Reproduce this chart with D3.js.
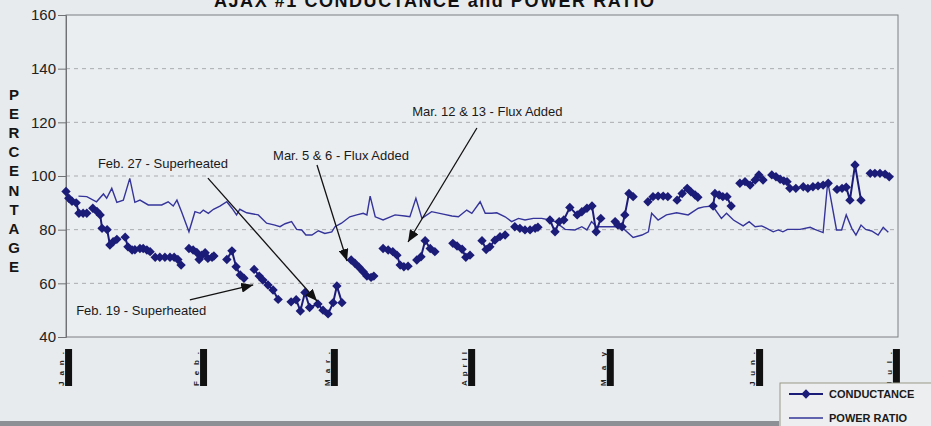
<!DOCTYPE html>
<html>
<head>
<meta charset="utf-8">
<script src="https://cdn.jsdelivr.net/npm/d3@7"></script>
<style>
  html, body { margin: 0; padding: 0; background: #e7ebee; }
  svg { display: block; font-family: "Liberation Sans", Arial, sans-serif; }
</style>
</head>
<body>
<div id="chart"></div>
<script>
// day index along the category axis (about one sample per day), value in %
const monthLabels = ['Jan.', 'Feb.', 'Mar.', 'April', 'May', 'Jun.', 'Jul.'];
const monthDays = [-0.2, 29.0, 57.3, 87.0, 117.0, 149.3, 178.9];
const yTicks = [40, 60, 80, 100, 120, 140, 160];

// conductance readings, null marks a break between runs
const conductance = [
  [0.0, 94.2], [0.6, 91.7], [1.3, 90.6], [2.2, 90.0], [2.8, 86.1], [3.7, 86.1], [4.5, 86.1], null,
  [5.8, 88.0], [6.7, 86.8], [7.4, 85.5], [7.8, 80.5], [8.9, 80.0], [9.5, 74.3], [10.2, 75.5], [11.0, 76.4], null,
  [12.8, 77.2], [13.4, 73.6], [14.3, 72.4], [14.9, 72.5], [16.0, 73.0], [16.7, 73.0], [17.5, 72.4], [18.2, 71.8], null,
  [19.3, 69.7], [20.3, 69.7], [21.4, 69.7], [22.5, 69.7], [23.4, 69.7], [24.2, 68.9], [24.9, 66.8], null,
  [26.6, 73.0], [27.5, 72.4], [28.3, 71.5], [28.8, 68.9], [29.4, 70.5], [30.1, 71.4], [30.7, 69.3], [31.6, 69.7], [32.0, 70.2], null,
  [34.8, 68.9], [35.9, 72.1], [36.8, 66.2], [37.7, 63.1], [38.5, 61.9], null,
  [40.7, 65.2], [41.8, 62.7], [42.6, 61.2], [43.7, 59.4], [44.8, 57.5], [45.9, 54.0], null,
  [48.7, 53.1], [49.8, 53.9], [50.7, 49.7], [51.7, 56.6], [52.7, 51.0], [54.5, 52.3], [55.6, 50.0], [56.7, 48.6], [57.8, 52.8], [58.6, 59.0], [59.7, 52.8], null,
  [61.7, 68.7], [62.5, 67.5], [63.4, 66.0], [64.3, 64.3], [65.1, 62.7], [66.0, 62.2], [66.6, 62.7], null,
  [68.6, 73.0], [69.7, 72.4], [70.7, 71.8], [71.6, 70.5], [72.3, 66.8], [73.1, 66.2], [74.0, 66.4], null,
  [75.9, 68.7], [76.8, 69.9], [77.7, 75.9], [78.8, 73.0], [79.8, 71.8], null,
  [83.7, 74.9], [84.6, 73.9], [85.7, 72.7], [86.5, 69.7], [87.4, 70.5], null,
  [90.0, 75.9], [90.9, 72.6], [91.7, 73.6], [92.8, 76.1], [93.9, 77.4], [95.0, 78.0], null,
  [97.1, 81.1], [98.2, 80.5], [99.3, 79.9], [100.4, 79.9], [101.5, 80.5], [102.1, 80.9], null,
  [104.7, 83.6], [105.8, 79.2], [106.7, 83.0], [107.7, 83.6], [109.0, 88.3], [110.6, 85.5], [111.6, 86.7], [112.7, 88.0], [113.8, 88.8], [114.7, 79.2], [115.7, 84.2], null,
  [118.8, 83.0], [119.4, 81.7], [120.3, 81.1], [120.9, 85.5], [121.8, 93.5], [122.7, 92.3], null,
  [125.9, 90.4], [127.0, 92.3], [128.1, 92.5], [129.2, 92.5], [130.2, 92.3], null,
  [132.2, 91.0], [133.3, 93.5], [134.4, 95.4], [135.2, 94.1], [136.1, 92.9], [136.7, 92.1], null,
  [140.0, 88.8], [140.4, 93.5], [141.3, 92.9], [142.1, 92.3], [143.0, 92.3], [143.9, 88.8], null,
  [145.8, 97.3], [146.9, 97.9], [148.0, 96.6], [149.1, 98.5], [149.9, 100.4], [150.8, 98.5], null,
  [152.7, 100.4], [153.6, 99.7], [154.5, 98.8], [155.3, 98.2], [156.0, 97.9], [156.6, 95.4], [157.9, 95.4], null,
  [159.5, 96.0], [160.5, 95.4], [161.6, 96.0], [162.7, 96.3], [163.8, 96.6], [164.9, 97.3], null,
  [166.8, 95.0], [167.9, 95.4], [168.8, 95.8], [169.6, 91.0], [170.7, 104.1], [172.0, 91.0], null,
  [174.0, 101.0], [175.0, 101.0], [176.1, 101.0], [177.2, 100.7], [178.1, 99.7]
];

const powerRatio = [
  [2.7, 92.5], [4.5, 92.3], [6.6, 90.4], [8.1, 93.3], [8.8, 91.7], [9.9, 95.4], [11.0, 90.2], [12.4, 91.0],
  [13.8, 99.1], [14.9, 90.2], [16.0, 91.0], [17.8, 89.2], [20.7, 89.2], [22.1, 90.4], [23.2, 88.8], [24.0, 91.0],
  [25.0, 86.7], [26.6, 79.2], [27.9, 86.7], [29.0, 86.1], [29.7, 87.3], [30.8, 86.1], [31.9, 87.6], [33.3, 88.8],
  [34.8, 90.4], [35.9, 88.0], [36.9, 85.5], [37.6, 87.6], [39.1, 86.3], [41.6, 85.5], [43.4, 82.4], [45.2, 81.7],
  [46.3, 81.1], [47.4, 82.2], [48.8, 83.0], [49.9, 80.1], [51.0, 79.9], [51.9, 78.0], [53.2, 78.0], [54.6, 79.6],
  [56.0, 78.6], [57.5, 79.2], [58.2, 81.1], [59.6, 82.4], [61.4, 84.8], [62.9, 85.5], [64.3, 86.1], [65.1, 85.5],
  [65.8, 92.5], [66.9, 84.8], [68.6, 83.6], [71.2, 85.5], [73.3, 85.1], [74.4, 84.8], [75.7, 91.7], [77.0, 84.2],
  [79.1, 86.7], [81.6, 85.8], [83.5, 85.1], [84.9, 84.8], [86.7, 87.3], [87.8, 86.1], [89.6, 90.4], [90.7, 86.1],
  [92.1, 86.1], [93.2, 86.3], [95.0, 84.8], [96.4, 83.0], [97.9, 84.2], [99.3, 83.6], [101.1, 84.2], [102.9, 84.2],
  [104.7, 83.6], [105.8, 83.0], [108.0, 80.1], [110.1, 79.9], [111.6, 81.1], [112.7, 79.9], [113.7, 83.0], [114.8, 81.1],
  [115.9, 81.1], [118.4, 81.1], [119.5, 81.1], [120.9, 79.9], [122.7, 77.1], [124.6, 78.0], [126.0, 79.2], [126.7, 86.1],
  [128.1, 83.6], [129.9, 85.5], [132.1, 86.3], [134.6, 85.5], [136.8, 88.0], [138.0, 88.5], [139.9, 88.8], [141.8, 84.2],
  [142.9, 86.1], [144.4, 83.6], [146.5, 81.4], [147.8, 83.0], [149.1, 81.1], [150.5, 81.4], [151.6, 80.5], [153.0, 79.2],
  [154.1, 79.9], [155.1, 79.2], [156.1, 80.1], [158.8, 80.1], [161.0, 80.9], [162.0, 80.1], [163.8, 78.9], [164.8, 97.9],
  [166.7, 79.9], [167.8, 79.9], [168.8, 85.5], [170.0, 80.5], [170.9, 78.0], [172.0, 81.7], [173.0, 80.1], [174.3, 79.5],
  [175.7, 78.0], [176.8, 80.9], [177.9, 79.0]
];

// annotation text anchor and arrow tail/tip, in [day, value]
const notes = [
  { text: 'Feb. 27 - Superheated', at: [6.9, 104.8], from: [30.7, 99.2], to: [54.3, 53.4] },
  { text: 'Feb. 19 - Superheated', at: [2.2, 50.0], from: [26.8, 53.8], to: [40.5, 59.4] },
  { text: 'Mar. 5 & 6 - Flux Added', at: [44.8, 107.8], from: [54.3, 104.1], to: [60.8, 68.3] },
  { text: 'Mar. 12 & 13 - Flux Added', at: [74.9, 124.2], from: [88.9, 117.9], to: [74.0, 75.4] }
];

const width = 931;
const height = 426;
const margin = { top: 15, right: 33, bottom: 89, left: 66 };

const condColor = '#1b1b78';
const ratioColor = '#34349a';

const svg = d3.select('#chart')
  .append('svg')
  .attr('width', width)
  .attr('height', height);

svg.append('defs').append('marker')
  .attr('id', 'arrow')
  .attr('viewBox', '0 0 12 10')
  .attr('refX', 12)
  .attr('refY', 5)
  .attr('markerWidth', 12)
  .attr('markerHeight', 10)
  .attr('markerUnits', 'userSpaceOnUse')
  .attr('orient', 'auto')
  .append('path')
  .attr('d', 'M0,0 L12,5 L0,10 Z')
  .attr('fill', '#111');

const x = d3.scaleLinear().domain([0, 180]).range([margin.left, width - margin.right]);
const y = d3.scaleLinear().domain([40, 160]).range([height - margin.bottom, margin.top]);

// plot area
svg.append('rect')
  .attr('x', x(0)).attr('y', y(160))
  .attr('width', x(180) - x(0)).attr('height', y(40) - y(160))
  .attr('fill', '#ebeef1')
  .attr('stroke', '#7d7f82')
  .attr('stroke-width', 1);

// dashed grid
svg.append('g')
  .selectAll('line')
  .data(yTicks.filter(t => t > 40 && t < 160))
  .enter().append('line')
  .attr('x1', x(0)).attr('x2', x(180))
  .attr('y1', d => y(d)).attr('y2', d => y(d))
  .attr('stroke', '#a9abae')
  .attr('stroke-width', 1)
  .attr('stroke-dasharray', '4,4');

// y axis
const yAxis = svg.append('g')
  .attr('transform', `translate(${x(0)},0)`)
  .call(d3.axisLeft(y).tickValues(yTicks).tickSize(8).tickPadding(2));
yAxis.select('.domain').attr('stroke', '#6f7174');
yAxis.selectAll('.tick line').attr('stroke', '#6f7174');
yAxis.selectAll('.tick text')
  .attr('font-size', 15)
  .attr('fill', '#222')
  .attr('font-family', '"Liberation Sans", Arial, sans-serif');

// vertical PERCENTAGE label
svg.append('g')
  .selectAll('text')
  .data('PERCENTAGE'.split(''))
  .enter().append('text')
  .attr('x', 14)
  .attr('y', (d, i) => 100 + i * 19.1)
  .attr('text-anchor', 'middle')
  .attr('font-size', 15)
  .attr('font-weight', 'bold')
  .attr('fill', '#161616')
  .text(d => d);

// month labels with the dark bars from the scan
const months = svg.append('g')
  .selectAll('g')
  .data(monthLabels)
  .enter().append('g')
  .attr('transform', (d, i) => `translate(${x(monthDays[i])},0)`);
months.append('rect')
  .attr('x', 0).attr('y', 349)
  .attr('width', 7).attr('height', 37)
  .attr('fill', '#111');
months.append('text')
  .attr('transform', 'translate(-1,386) rotate(-90)')
  .attr('font-size', 8)
  .attr('font-weight', 'bold')
  .attr('fill', '#222')
  .attr('textLength', 34)
  .attr('lengthAdjust', 'spacing')
  .text(d => d);

// title, cut off by the top edge as in the scan
svg.append('text')
  .attr('x', 434)
  .attr('y', 7)
  .attr('text-anchor', 'middle')
  .attr('font-size', 18)
  .attr('font-weight', 'bold')
  .attr('fill', '#111')
  .attr('textLength', 440)
  .text('AJAX #1 CONDUCTANCE and POWER RATIO');

// power ratio line
const line = d3.line()
  .defined(d => d !== null)
  .x(d => x(d[0]))
  .y(d => y(d[1]));

svg.append('path')
  .datum(powerRatio)
  .attr('d', line)
  .attr('fill', 'none')
  .attr('stroke', ratioColor)
  .attr('stroke-width', 1.4);

// conductance line and diamonds
svg.append('path')
  .datum(conductance)
  .attr('d', line)
  .attr('fill', 'none')
  .attr('stroke', condColor)
  .attr('stroke-width', 2);

const diamond = d3.symbol(d3.symbolSquare, 44);
svg.append('g')
  .selectAll('path')
  .data(conductance.filter(d => d !== null))
  .enter().append('path')
  .attr('d', diamond)
  .attr('transform', d => `translate(${x(d[0])},${y(d[1])}) rotate(45)`)
  .attr('fill', condColor);

// annotations
const note = svg.append('g')
  .selectAll('g')
  .data(notes)
  .enter().append('g');
note.append('line')
  .attr('x1', d => x(d.from[0])).attr('y1', d => y(d.from[1]))
  .attr('x2', d => x(d.to[0])).attr('y2', d => y(d.to[1]))
  .attr('stroke', '#111')
  .attr('stroke-width', 1.3)
  .attr('marker-end', 'url(#arrow)');
note.append('text')
  .attr('x', d => x(d.at[0]))
  .attr('y', d => y(d.at[1]))
  .attr('dy', '0.35em')
  .attr('font-size', 13)
  .attr('fill', '#1a1a1a')
  .text(d => d.text);

// legend
const legend = svg.append('g').attr('transform', 'translate(780,383)');
legend.append('rect')
  .attr('x', 0).attr('y', 0)
  .attr('width', 160).attr('height', 50)
  .attr('fill', '#eceef0')
  .attr('stroke', '#9a9a86');
legend.append('line')
  .attr('x1', 9).attr('x2', 43).attr('y1', 11).attr('y2', 11)
  .attr('stroke', condColor).attr('stroke-width', 2);
legend.append('path')
  .attr('d', diamond)
  .attr('transform', 'translate(26,11) rotate(45)')
  .attr('fill', condColor);
legend.append('line')
  .attr('x1', 9).attr('x2', 43).attr('y1', 35).attr('y2', 35)
  .attr('stroke', ratioColor).attr('stroke-width', 1.4);
legend.append('text')
  .attr('x', 49).attr('y', 11).attr('dy', '0.35em')
  .attr('font-size', 11).attr('font-weight', 'bold').attr('fill', '#1a1a1a')
  .text('CONDUCTANCE');
legend.append('text')
  .attr('x', 49).attr('y', 35).attr('dy', '0.35em')
  .attr('font-size', 11).attr('font-weight', 'bold').attr('fill', '#1a1a1a')
  .text('POWER RATIO');

// scan shadow along the bottom edge
svg.append('rect')
  .attr('x', 0).attr('y', 421)
  .attr('width', 779).attr('height', 5)
  .attr('fill', '#8d9094');
</script>
</body>
</html>
